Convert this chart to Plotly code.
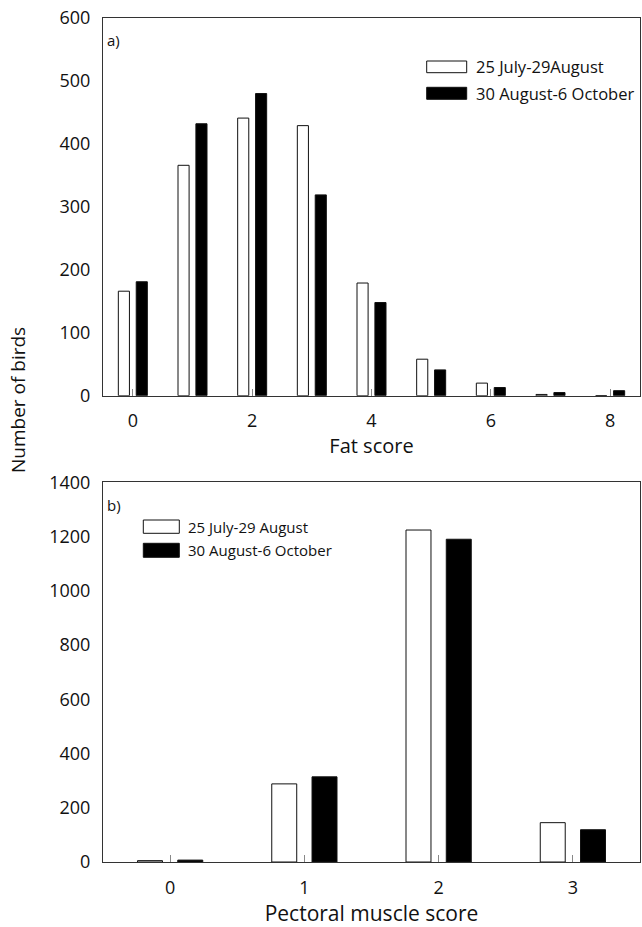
import plotly.graph_objects as go

# Fat score distribution (panel a)
fat_scores = [0, 1, 2, 3, 4, 5, 6, 7, 8]
fat_early = [166, 366, 441, 429, 179, 58, 20, 2, 0]
fat_late = [181, 432, 480, 319, 148, 41, 13, 5, 8]

# Pectoral muscle score distribution (panel b)
muscle_scores = [0, 1, 2, 3]
muscle_early = [5, 288, 1224, 145]
muscle_late = [7, 314, 1190, 119]

label_early_a = "25 July-29August"
label_late_a = "30 August-6 October"
label_early_b = "25 July-29 August"
label_late_b = "30 August-6 October"

FONT = "Open Sans"
W, H = 642, 927
ML, MR, MT, MB = 103, 2, 18, 65
PW, PH = W - ML - MR, H - MT - MB


def px(xp):
    return (xp - ML) / PW


def py(yp):
    return (H - MB - yp) / PH


fig = go.Figure()

bar_line = dict(color="#111", width=1)
fig.add_trace(go.Bar(x=fat_scores, y=fat_early, marker=dict(color="white", line=bar_line),
                     xaxis="x", yaxis="y", showlegend=False))
fig.add_trace(go.Bar(x=fat_scores, y=fat_late, marker=dict(color="black", line=bar_line),
                     xaxis="x", yaxis="y", showlegend=False))
fig.add_trace(go.Bar(x=muscle_scores, y=muscle_early, marker=dict(color="white", line=bar_line),
                     xaxis="x2", yaxis="y2", showlegend=False))
fig.add_trace(go.Bar(x=muscle_scores, y=muscle_late, marker=dict(color="black", line=bar_line),
                     xaxis="x2", yaxis="y2", showlegend=False))

top_bottom_px, top_top_px = 395.7, 17.7
bot_bottom_px, bot_top_px = 861.7, 482.3

axis_common = dict(showline=True, linecolor="#333", linewidth=1, mirror=True,
                   showgrid=False, zeroline=False,
                   tickfont=dict(family=FONT, size=18, color="#111"))

fig.update_layout(
    width=W, height=H,
    margin=dict(l=ML, r=MR, t=MT, b=MB),
    paper_bgcolor="white", plot_bgcolor="white",
    barmode="group", bargap=0.4, bargroupgap=0.38,
    xaxis=dict(domain=[0, 1], anchor="y", range=[-0.5, 8.5],
               tickmode="array", tickvals=[0, 2, 4, 6, 8],
               ticks="inside", ticklen=7, tickcolor="#888", ticklabelstandoff=9,
               title=dict(text="Fat score", font=dict(family=FONT, size=20, color="#111"), standoff=5),
               **axis_common),
    yaxis=dict(domain=[py(top_bottom_px), 1], anchor="x", range=[0, 600],
               tickmode="linear", tick0=0, dtick=100, ticks="", ticklabelstandoff=8,
               **axis_common),
    xaxis2=dict(domain=[0, 1], anchor="y2", range=[-0.5, 3.5],
                tickmode="array", tickvals=muscle_scores,
                ticks="inside", ticklen=7, tickcolor="#888", ticklabelstandoff=9,
                title=dict(text="Pectoral muscle score", font=dict(family=FONT, size=21, color="#111"), standoff=9),
                **axis_common),
    yaxis2=dict(domain=[0, py(bot_top_px)], anchor="x2", range=[0, 1400],
                tickmode="linear", tick0=0, dtick=200, ticks="", ticklabelstandoff=8,
                **axis_common),
)

shapes = []
annotations = []


def legend_entry(x0, x1, y0, y1, fill, text, tx, ty, size):
    shapes.append(dict(type="rect", xref="paper", yref="paper",
                       x0=px(x0), x1=px(x1), y0=py(y1), y1=py(y0),
                       fillcolor=fill, line=dict(color="#111", width=1)))
    annotations.append(dict(text=text, xref="paper", yref="paper", x=px(tx), y=py(ty),
                            xanchor="left", yanchor="middle", showarrow=False,
                            font=dict(family=FONT, size=size, color="#111")))


# panel a legend
legend_entry(426.7, 466.7, 61, 72.7, "white", label_early_a, 474, 67, 16.5)
legend_entry(426.7, 466.7, 87.3, 99.3, "black", label_late_a, 474, 93.3, 16.5)
# panel b legend
legend_entry(143.3, 179.3, 520, 533.3, "white", label_early_b, 185.5, 526.7, 15)
legend_entry(143.3, 179.3, 543.3, 557.3, "black", label_late_b, 185.5, 550.3, 15)

# panel letters
for letter, ycen in (("a)", 40), ("b)", 505)):
    annotations.append(dict(text=letter, xref="paper", yref="paper", x=px(105), y=py(ycen),
                            xanchor="left", yanchor="middle", showarrow=False,
                            font=dict(family=FONT, size=15, color="#111")))

# shared y-axis title
annotations.append(dict(text="Number of birds", xref="paper", yref="paper", x=px(18), y=py(400),
                        xanchor="center", yanchor="middle", textangle=-90, showarrow=False,
                        font=dict(family=FONT, size=19, color="#111")))

fig.update_layout(shapes=shapes, annotations=annotations)

fig.write_html("out.html")
